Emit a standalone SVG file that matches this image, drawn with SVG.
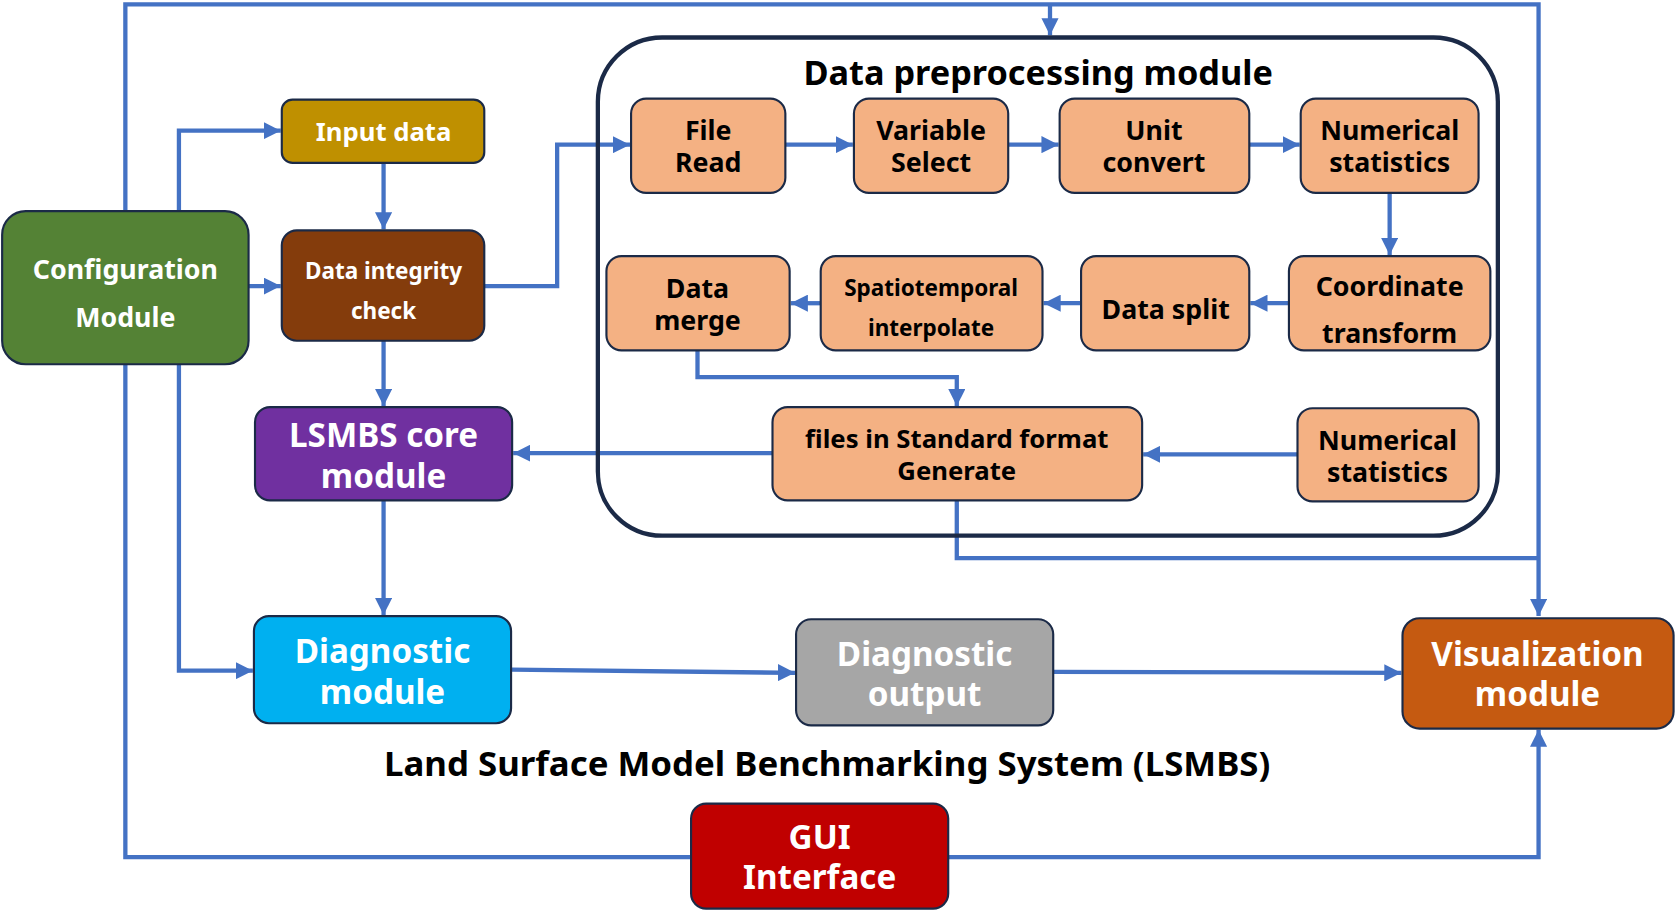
<svg xmlns="http://www.w3.org/2000/svg" width="1680" height="918" viewBox="0 0 1680 918">
<defs>
<marker id="arr" viewBox="0 0 10 10" refX="10" refY="5" markerWidth="16" markerHeight="16" markerUnits="userSpaceOnUse" orient="auto">
<path d="M0,0 L10,5 L0,10 z" fill="#4472C4"/>
</marker>
<style>
.c{fill:none;stroke:#4472C4;stroke-width:4;}
.a{marker-end:url(#arr);}
.n{stroke:#1B2A47;stroke-width:2;}
.p{fill:#F4B183;stroke:#1B2A47;stroke-width:2;}
text{font-family:"Noto Sans","Open Sans","DejaVu Sans",sans-serif;font-weight:700;text-anchor:middle;dominant-baseline:central;}
.w{fill:#FFFFFF;}
.k{fill:#000000;}
</style>
</defs>
<rect width="1680" height="918" fill="#FFFFFF"/>
<g transform="scale(1.0714286)">
<g id="connectors">
<path class="c a" d="M645,800 H117 V4 H1436 V575"/>
<path class="c a" d="M980,4 V33"/>
<path class="c a" d="M885,800 H1436 V681"/>
<path class="c" d="M893,467 V521 H1436"/>
<path class="c a" d="M167,197 V122 H262"/>
<path class="c a" d="M358,152 V214"/>
<path class="c a" d="M232,267 H262"/>
<path class="c a" d="M452,267 H520 V135 H588"/>
<path class="c a" d="M358,318 V379"/>
<path class="c a" d="M358,467 V574"/>
<path class="c a" d="M167,340 V626 H236"/>
<path class="c a" d="M477,625 L742,628"/>
<path class="c a" d="M983,627 L1308,628"/>
<path class="c a" d="M733,135 H796"/>
<path class="c a" d="M941,135 H988"/>
<path class="c a" d="M1166,135 H1213"/>
<path class="c a" d="M1297,180 V238"/>
<path class="c a" d="M1203,283 H1167"/>
<path class="c a" d="M1009,283 H974"/>
<path class="c a" d="M766,283 H738"/>
<path class="c a" d="M651,327 V352 H893 V379"/>
<path class="c a" d="M1211,424 H1067"/>
<path class="c a" d="M721,423 H479"/>
</g>
<g id="preprocessing-module">
<rect x="558" y="35" width="840" height="465" rx="60" ry="60" fill="none" stroke="#1B2A47" stroke-width="4"/>
<text class="k" x="969" y="67" font-size="32">Data preprocessing module</text>
</g>
<g id="configuration-module">
<rect class="n" x="2" y="197" width="230" height="143" rx="22" fill="#548235"/>
<text class="w" x="117" y="251" font-size="25">Configuration</text>
<text class="w" x="117" y="295" font-size="25">Module</text>
</g>
<g id="input-data">
<rect class="n" x="263" y="93" width="189" height="59" rx="10" fill="#BF9000"/>
<text class="w" x="358" y="123" font-size="24">Input data</text>
</g>
<g id="data-integrity-check">
<rect class="n" x="263" y="215" width="189" height="103" rx="14" fill="#843C0C"/>
<text class="w" x="358" y="252" font-size="21">Data integrity</text>
<text class="w" x="358" y="290" font-size="21">check</text>
</g>
<g id="lsmbs-core-module">
<rect class="n" x="238" y="380" width="240" height="87" rx="14" fill="#7030A0"/>
<text class="w" x="358" y="405" font-size="31">LSMBS core</text>
<text class="w" x="358" y="443" font-size="31">module</text>
</g>
<g id="diagnostic-module">
<rect class="n" x="237" y="575" width="240" height="100" rx="14" fill="#00B0F0"/>
<text class="w" x="357" y="607" font-size="31">Diagnostic</text>
<text class="w" x="357" y="645" font-size="31">module</text>
</g>
<g id="diagnostic-output">
<rect class="n" x="743" y="578" width="240" height="99" rx="14" fill="#A6A6A6"/>
<text class="w" x="863" y="609" font-size="31">Diagnostic</text>
<text class="w" x="863" y="647" font-size="31">output</text>
</g>
<g id="visualization-module">
<rect class="n" x="1309" y="577" width="253" height="103" rx="16" fill="#C55A11"/>
<text class="w" x="1435" y="609" font-size="31">Visualization</text>
<text class="w" x="1435" y="647" font-size="31">module</text>
</g>
<g id="gui-interface">
<rect class="n" x="645" y="750" width="240" height="98" rx="14" fill="#C00000"/>
<text class="w" x="765" y="780" font-size="31">GUI</text>
<text class="w" x="765" y="818" font-size="31">Interface</text>
</g>
<g id="system-title">
<text class="k" x="772" y="712" font-size="32.5">Land Surface Model Benchmarking System (LSMBS)</text>
</g>
<g id="file-read">
<rect class="p" x="589" y="92" width="144" height="88" rx="14"/>
<text class="k" x="661" y="121" font-size="25">File</text>
<text class="k" x="661" y="151" font-size="25">Read</text>
</g>
<g id="variable-select">
<rect class="p" x="797" y="92" width="144" height="88" rx="14"/>
<text class="k" x="869" y="121" font-size="25">Variable</text>
<text class="k" x="869" y="151" font-size="25">Select</text>
</g>
<g id="unit-convert">
<rect class="p" x="989" y="92" width="177" height="88" rx="14"/>
<text class="k" x="1077" y="121" font-size="25">Unit</text>
<text class="k" x="1077" y="151" font-size="25">convert</text>
</g>
<g id="numerical-statistics-1">
<rect class="p" x="1214" y="92" width="166" height="88" rx="14"/>
<text class="k" x="1297" y="121" font-size="25">Numerical</text>
<text class="k" x="1297" y="151" font-size="25">statistics</text>
</g>
<g id="coordinate-transform">
<rect class="p" x="1203" y="239" width="188" height="88" rx="14"/>
<text class="k" x="1297" y="266" font-size="25">Coordinate</text>
<text class="k" x="1297" y="310" font-size="25">transform</text>
</g>
<g id="data-split">
<rect class="p" x="1009" y="239" width="157" height="88" rx="14"/>
<text class="k" x="1088" y="288" font-size="25">Data split</text>
</g>
<g id="spatiotemporal-interpolate">
<rect class="p" x="766" y="239" width="207" height="88" rx="14"/>
<text class="k" x="869" y="268" font-size="21">Spatiotemporal</text>
<text class="k" x="869" y="306" font-size="21">interpolate</text>
</g>
<g id="data-merge">
<rect class="p" x="566" y="239" width="171" height="88" rx="14"/>
<text class="k" x="651" y="268" font-size="25">Data</text>
<text class="k" x="651" y="298" font-size="25">merge</text>
</g>
<g id="standard-format-generate">
<rect class="p" x="721" y="380" width="345" height="87" rx="14"/>
<text class="k" x="893" y="409" font-size="24">files in Standard format</text>
<text class="k" x="893" y="439" font-size="24">Generate</text>
</g>
<g id="numerical-statistics-2">
<rect class="p" x="1211" y="381" width="169" height="87" rx="14"/>
<text class="k" x="1295" y="410" font-size="25">Numerical</text>
<text class="k" x="1295" y="440" font-size="25">statistics</text>
</g>
</g>
</svg>
